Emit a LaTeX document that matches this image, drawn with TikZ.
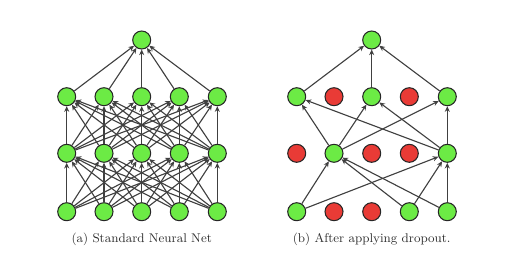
\documentclass[tikz,border=0pt]{standalone}
\usepackage{tikz}
\usetikzlibrary{arrows.meta}
\definecolor{ngreen}{HTML}{6CEB45}
\definecolor{nred}{HTML}{E93B36}
\definecolor{nwire}{HTML}{404040}
\definecolor{ncap}{HTML}{303030}
\tikzset{
  unit/.style={circle,draw=black!85,line width=0.75pt,minimum size=0.45cm,inner sep=0pt},
  keep/.style={unit,fill=ngreen},
  drop/.style={unit,fill=nred},
  wire/.style={-{Stealth[length=4pt,width=3.6pt]},line width=0.8pt,draw=nwire},
  capt/.style={font=\small,text=ncap},
}
\begin{document}
\begin{tikzpicture}[x=0.025cm,y=-0.025cm]
  \useasboundingbox (0,0) rectangle (518,257);
  % (a) standard net
  \foreach \i/\x in {1/66.7,2/104,3/141.7,4/179.3,5/217.3} {
    \node[keep] (a0\i) at (\x,211.7) {};
    \node[keep] (a1\i) at (\x,153.3) {};
    \node[keep] (a2\i) at (\x,96.7) {};
  }
  \node[keep] (aout) at (141.7,40) {};
  \foreach \i in {1,...,5} {
    \foreach \j in {1,...,5} {
      \draw[wire] (a0\i) -- (a1\j);
      \draw[wire] (a1\i) -- (a2\j);
    }
    \draw[wire] (a2\i) -- (aout);
  }
  \node[capt] (acap) at (141.7,239.5) {(a) Standard Neural Net};
  % (b) thinned net
  \node[keep] (b01) at (296.7,211.7) {};
  \node[drop] (b02) at (334,211.7) {};
  \node[drop] (b03) at (371.7,211.7) {};
  \node[keep] (b04) at (409.3,211.7) {};
  \node[keep] (b05) at (447.3,211.7) {};
  \node[drop] (b11) at (296.7,153.3) {};
  \node[keep] (b12) at (334,153.3) {};
  \node[drop] (b13) at (371.7,153.3) {};
  \node[drop] (b14) at (409.3,153.3) {};
  \node[keep] (b15) at (447.3,153.3) {};
  \node[keep] (b21) at (296.7,96.7) {};
  \node[drop] (b22) at (334,96.7) {};
  \node[keep] (b23) at (371.7,96.7) {};
  \node[drop] (b24) at (409.3,96.7) {};
  \node[keep] (b25) at (447.3,96.7) {};
  \node[keep] (bout) at (371.7,40) {};
  \foreach \i in {1,4,5} {
    \draw[wire] (b0\i) -- (b12);
    \draw[wire] (b0\i) -- (b15);
  }
  \foreach \i in {2,5} {
    \foreach \j in {1,3,5} {
      \draw[wire] (b1\i) -- (b2\j);
    }
  }
  \foreach \j in {1,3,5} {
    \draw[wire] (b2\j) -- (bout);
  }
  \node[capt] (bcap) at (371.7,239.5) {(b) After applying dropout.};
\end{tikzpicture}
\end{document}
